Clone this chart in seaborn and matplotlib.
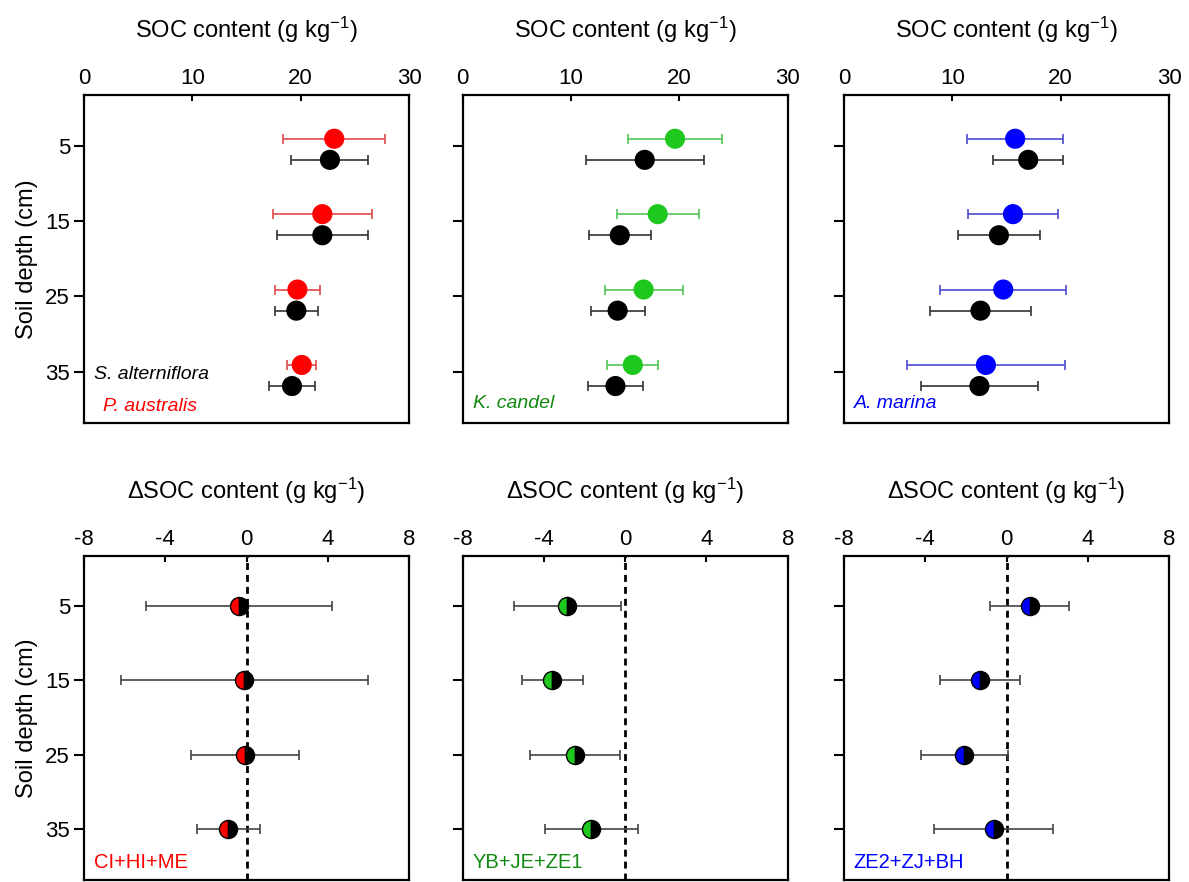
import numpy as np
import pandas as pd
import matplotlib
matplotlib.use('Agg')
import matplotlib.pyplot as plt
import seaborn as sns

sns.set_style('ticks')
plt.rcParams['font.family'] = ['Liberation Sans', 'DejaVu Sans']
plt.rcParams['mathtext.default'] = 'regular'
for k in ['text.color', 'axes.labelcolor', 'xtick.color', 'ytick.color', 'axes.edgecolor']:
    plt.rcParams[k] = 'black'

# --- datos ---
depths = [5, 15, 25, 35]

# SOC (g/kg): especie nativa / S. alterniflora (negro)
pa_mean = [23.1, 22.0, 19.7, 20.1]
pa_err = [4.7, 4.6, 2.05, 1.35]
sa1_mean = [22.7, 22.0, 19.6, 19.2]
sa1_err = [3.55, 4.2, 2.0, 2.1]

kc_mean = [19.6, 18.0, 16.7, 15.7]
kc_err = [4.3, 3.8, 3.6, 2.35]
sa2_mean = [16.8, 14.5, 14.3, 14.1]
sa2_err = [5.45, 2.85, 2.5, 2.55]

am_mean = [15.8, 15.6, 14.7, 13.1]
am_err = [4.45, 4.15, 5.8, 7.3]
sa3_mean = [17.0, 14.3, 12.6, 12.5]
sa3_err = [3.25, 3.75, 4.7, 5.4]

# delta SOC (g/kg)
d1_mean = [-0.37, -0.1, -0.07, -0.9]
d1_err = [4.6, 6.1, 2.65, 1.55]
d2_mean = [-2.85, -3.6, -2.48, -1.67]
d2_err = [2.64, 1.5, 2.2, 2.28]
d3_mean = [1.15, -1.3, -2.07, -0.62]
d3_err = [1.95, 1.95, 2.13, 2.93]

top_ticks = [0, 10, 20, 30]
bottom_ticks = [-8, -4, 0, 4, 8]

top_panels = [
    (pa_mean, pa_err, sa1_mean, sa1_err, '#ff0000', '#e04a4a', 'P. australis', '#ff0000'),
    (kc_mean, kc_err, sa2_mean, sa2_err, '#1ec81e', '#55c455', 'K. candel', '#108a10'),
    (am_mean, am_err, sa3_mean, sa3_err, '#0000ff', '#4a4ad0', 'A. marina', '#0000ff'),
]
bottom_panels = [
    (d1_mean, d1_err, '#ff0000', 'CI+HI+ME', '#ff0000'),
    (d2_mean, d2_err, '#1ec81e', 'YB+JE+ZE1', '#108a10'),
    (d3_mean, d3_err, '#0000ff', 'ZE2+ZJ+BH', '#0000ff'),
]

fig = plt.figure(figsize=(11.89, 8.82), dpi=100)
lefts = [84 / 1189, 462.7 / 1189, 844 / 1189]
w = 325 / 1189
h_top = (423 - 95) / 882
h_bot = (880 - 556) / 882
ylim = (41.8, -1.7)


def style_axis(ax, xlim, xticks, xlabel, first):
    ax.set_xlim(*xlim)
    ax.set_ylim(*ylim)
    ax.xaxis.tick_top()
    ax.xaxis.set_label_position('top')
    ax.set_xticks(xticks)
    ax.set_xticklabels([str(t) for t in xticks])
    ax.tick_params(axis='x', direction='in', length=4, width=1.5,
                   labelsize=16, pad=4, top=True, bottom=False)
    ax.set_yticks(depths)
    ax.tick_params(axis='y', direction='out', length=7, width=1.5,
                   labelsize=16, pad=3, right=False)
    ax.set_xlabel(xlabel, fontsize=17, labelpad=22)
    if first:
        ax.set_ylabel('Soil depth (cm)', fontsize=17, labelpad=5)
    else:
        ax.set_yticklabels([])
        ax.set_ylabel('')
    for s in ax.spines.values():
        s.set_visible(True)
        s.set_linewidth(1.6)


for i, (m1, e1, m2, e2, col, ecol, name, tcol) in enumerate(top_panels):
    ax = fig.add_axes([lefts[i], 1 - 423 / 882, w, h_top])
    df = pd.DataFrame({
        'depth': depths * 2,
        'soc': m1 + m2,
        'err': e1 + e2,
        'grupo': ['nativa'] * 4 + ['sa'] * 4,
    })
    df['ypos'] = df['depth'] + np.where(df['grupo'] == 'nativa', -0.9, 1.9)
    for g, c, ec in [('nativa', col, ecol), ('sa', '#000000', '#333333')]:
        sub = df[df['grupo'] == g]
        ax.errorbar(sub['soc'], sub['ypos'], xerr=sub['err'], fmt='none',
                    ecolor=ec, elinewidth=1.2, capsize=3.5, capthick=1.2, zorder=2)
        sns.scatterplot(data=sub, x='soc', y='ypos', color=c, s=210,
                        edgecolor='none', ax=ax, zorder=3)
    style_axis(ax, (0, 30), top_ticks, 'SOC content (g kg$^{-1}$)', i == 0)
    if i == 0:
        ax.text(0.032, 0.149, 'S. alterniflora', transform=ax.transAxes,
                fontsize=14, style='italic', color='black', va='center')
        ax.text(0.059, 0.05, name, transform=ax.transAxes,
                fontsize=14, style='italic', color=tcol, va='center')
    else:
        ax.text(0.032, 0.06, name, transform=ax.transAxes,
                fontsize=14, style='italic', color=tcol, va='center')

for i, (m, e, col, name, tcol) in enumerate(bottom_panels):
    ax = fig.add_axes([lefts[i], 1 - 880 / 882, w, h_bot])
    ax.axvline(0, color='black', lw=2, ls=(0, (2.5, 1.8)), zorder=1)
    ax.errorbar(m, depths, xerr=e, fmt='none', ecolor='#444444',
                elinewidth=1.2, capsize=3.5, capthick=1.2, zorder=2)
    ax.plot(m, depths, ls='none', marker='o', markersize=13,
            fillstyle='left', markerfacecolor=col, markerfacecoloralt='black',
            markeredgecolor='black', markeredgewidth=1.0, zorder=3)
    style_axis(ax, (-8, 8), bottom_ticks, '$\\Delta$SOC content (g kg$^{-1}$)', i == 0)
    ax.text(0.03, 0.053, name, transform=ax.transAxes,
            fontsize=14.5, color=tcol, va='center')

fig.savefig('out.png', dpi=100)
